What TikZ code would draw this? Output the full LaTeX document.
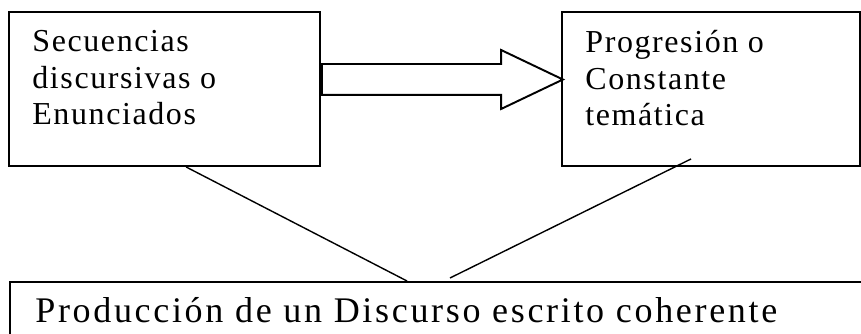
\documentclass[tikz,border=0pt]{standalone}
\usepackage{fontspec}
\setmainfont{Liberation Serif}
\newfontfamily\seqfont[LetterSpace=5]{Liberation Serif}
\newfontfamily\prodfont[LetterSpace=7.4]{Liberation Serif}
\usetikzlibrary{positioning,shapes.arrows,calc}

\begin{document}
\begin{tikzpicture}[
        box/.style={draw, rectangle, line width=1.1pt},
        boxtext/.style={align=left, inner sep=0pt,
            font=\seqfont\fontsize{18.2}{20.8}\selectfont},
        prodtext/.style={inner sep=0pt,
            font=\prodfont\fontsize{20.5}{24}\selectfont},
        link/.style={line width=0.8pt}
    ]
        \clip (0,0) rectangle (17.22,-6.68);

        \node[box,
        minimum width = 6.22cm,
        minimum height = 3.08cm
        ](sec) at (3.29cm,-1.78cm) {};

        \node[box,
        minimum width = 5.96cm,
        minimum height = 3.08cm
        ](prog) at (14.22cm,-1.78cm) {};

        \node[box,
        anchor = north west,
        minimum width = 18cm,
        minimum height = 2cm
        ](prod) at (0.18cm,-5.62cm) {};

        \node[boxtext, below right=0.38cm and 0.48cm of sec.north west](seclabel)
            {Secuencias\\discursivas o\\Enunciados};
        \node[boxtext, below right=0.38cm and 0.48cm of prog.north west](proglabel)
            {Progresión o\\Constante\\temática};
        \node[prodtext, below right=0.32cm and 0.52cm of prod.north west](prodlabel)
            {Producción de un Discurso escrito coherente};

        \node[draw,
        single arrow,
        line width = 1.1pt,
        inner sep = 0.29cm,
        minimum height = 4.82cm,
        minimum width = 1.14cm,
        single arrow head extend = 0.28cm,
        single arrow tip angle = 51,
        anchor = tail
        ](arr) at ($(sec.east)+(0,0.19)$) {};

        \draw[link] ($(sec.south west)!0.569!(sec.south east)$) -- ($(prod.north west)+(7.96,0)$);
        \draw[link] ($(prog.south west)+(2.6,0.16)$) -- ($(prod.north west)+(8.82,0.06)$);

    \end{tikzpicture}
\end{document}
